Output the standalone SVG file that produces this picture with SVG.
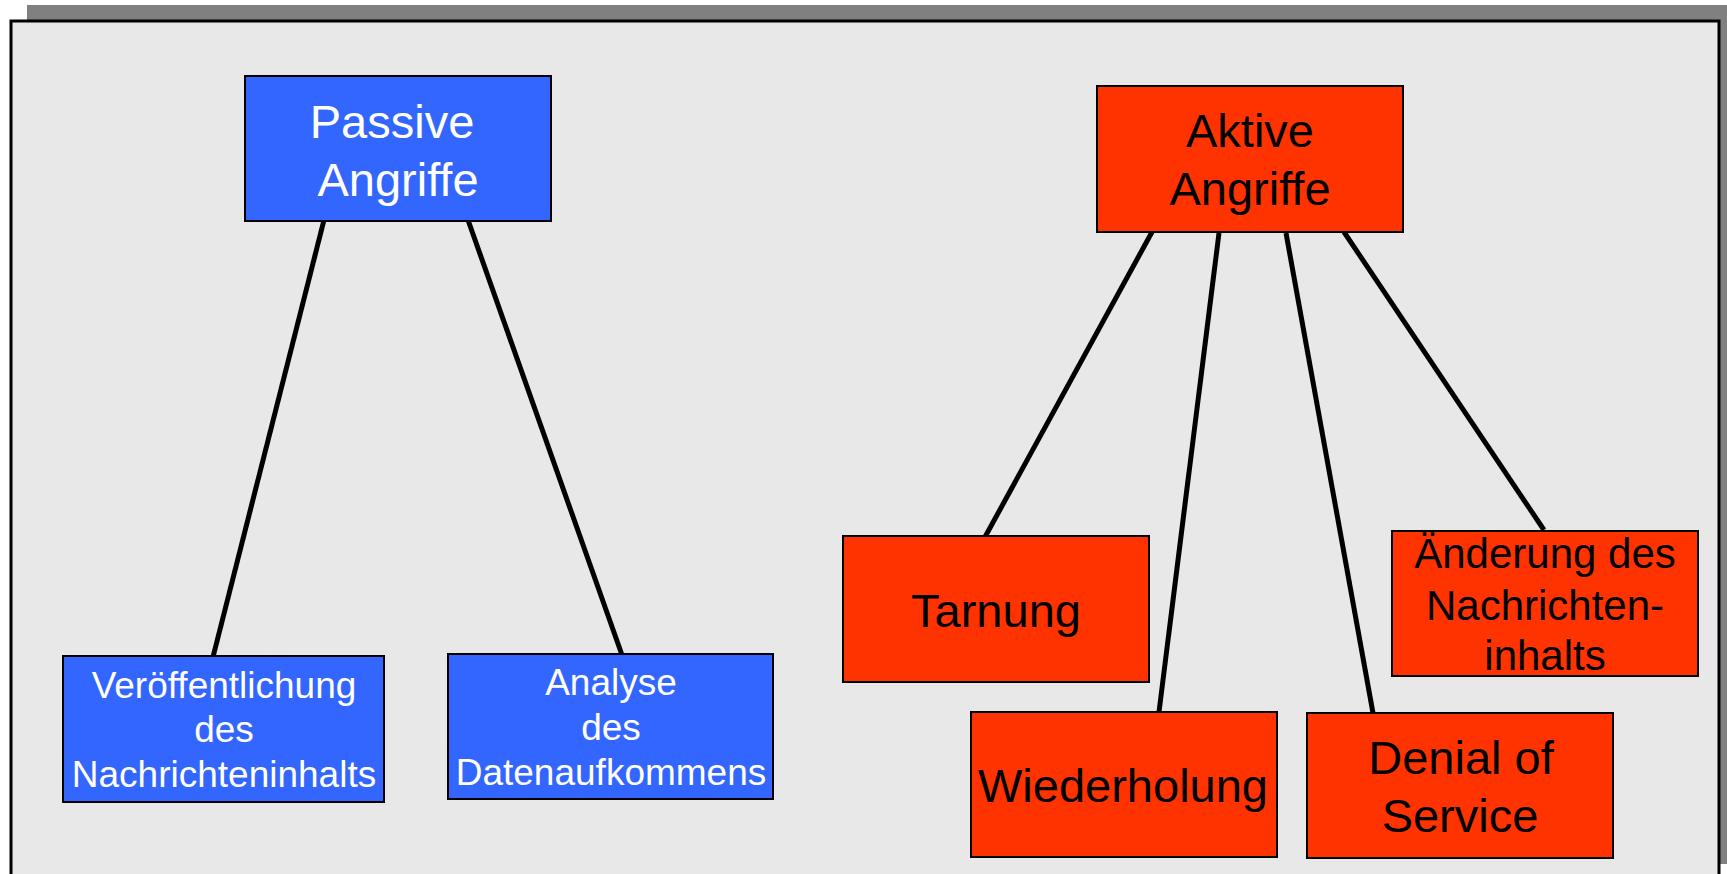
<svg xmlns="http://www.w3.org/2000/svg" width="1727" height="874" viewBox="0 0 1727 874">
<style>
.box{stroke:#000;stroke-width:2}
.blue{fill:#3366FF}
.red{fill:#FF3300}
.tw{fill:#fff;font-family:"Liberation Sans",Arial,sans-serif;text-anchor:middle}
.tb{fill:#000;font-family:"Liberation Sans",Arial,sans-serif;text-anchor:middle}
.conn line{stroke:#000;stroke-width:5}
</style>
<rect x="0" y="0" width="1727" height="874" fill="#fff"/>
<rect x="27" y="5" width="1708" height="859" fill="#808080"/>
<rect x="11" y="21" width="1708" height="870" fill="#E8E8E8" stroke="#000" stroke-width="3"/>
<g id="connectors" class="conn">
<line x1="324" y1="220" x2="213" y2="657"/>
<line x1="468" y1="220" x2="622" y2="655"/>
<line x1="1152" y1="232" x2="985" y2="537"/>
<line x1="1219" y1="233" x2="1159" y2="712"/>
<line x1="1286" y1="233" x2="1373" y2="713"/>
<line x1="1344" y1="232" x2="1544" y2="530"/>
</g>
<g id="passive">
<rect class="box blue" x="245" y="76" width="306" height="145"/>
<text class="tw" font-size="47"><tspan x="392" y="138">Passive</tspan><tspan x="398" y="196">Angriffe</tspan></text>
</g>
<g id="aktive">
<rect class="box red" x="1097" y="86" width="306" height="146"/>
<text class="tb" font-size="47"><tspan x="1250" y="147">Aktive</tspan><tspan x="1250" y="205">Angriffe</tspan></text>
</g>
<g id="veroeffentlichung">
<rect class="box blue" x="63" y="656" width="321" height="146"/>
<text class="tw" font-size="37"><tspan x="224" y="698">Veröffentlichung</tspan><tspan x="224" y="742">des</tspan><tspan x="224" y="787">Nachrichteninhalts</tspan></text>
</g>
<g id="analyse">
<rect class="box blue" x="448" y="654" width="325" height="145"/>
<text class="tw" font-size="37"><tspan x="611" y="695">Analyse</tspan><tspan x="611" y="740">des</tspan><tspan x="611" y="785">Datenaufkommens</tspan></text>
</g>
<g id="tarnung">
<rect class="box red" x="843" y="536" width="306" height="146"/>
<text class="tb" font-size="47" x="996" y="627">Tarnung</text>
</g>
<g id="wiederholung">
<rect class="box red" x="971" y="712" width="306" height="145"/>
<text class="tb" font-size="47" x="1123" y="802">Wiederholung</text>
</g>
<g id="denial">
<rect class="box red" x="1307" y="713" width="306" height="145"/>
<text class="tb" font-size="47"><tspan x="1461" y="774">Denial of</tspan><tspan x="1460" y="832">Service</tspan></text>
</g>
<g id="aenderung">
<rect class="box red" x="1392" y="531" width="306" height="145"/>
<text class="tb" font-size="42"><tspan x="1545" y="568">Änderung des</tspan><tspan x="1545" y="620">Nachrichten-</tspan><tspan x="1545" y="670">inhalts</tspan></text>
</g>
</svg>
